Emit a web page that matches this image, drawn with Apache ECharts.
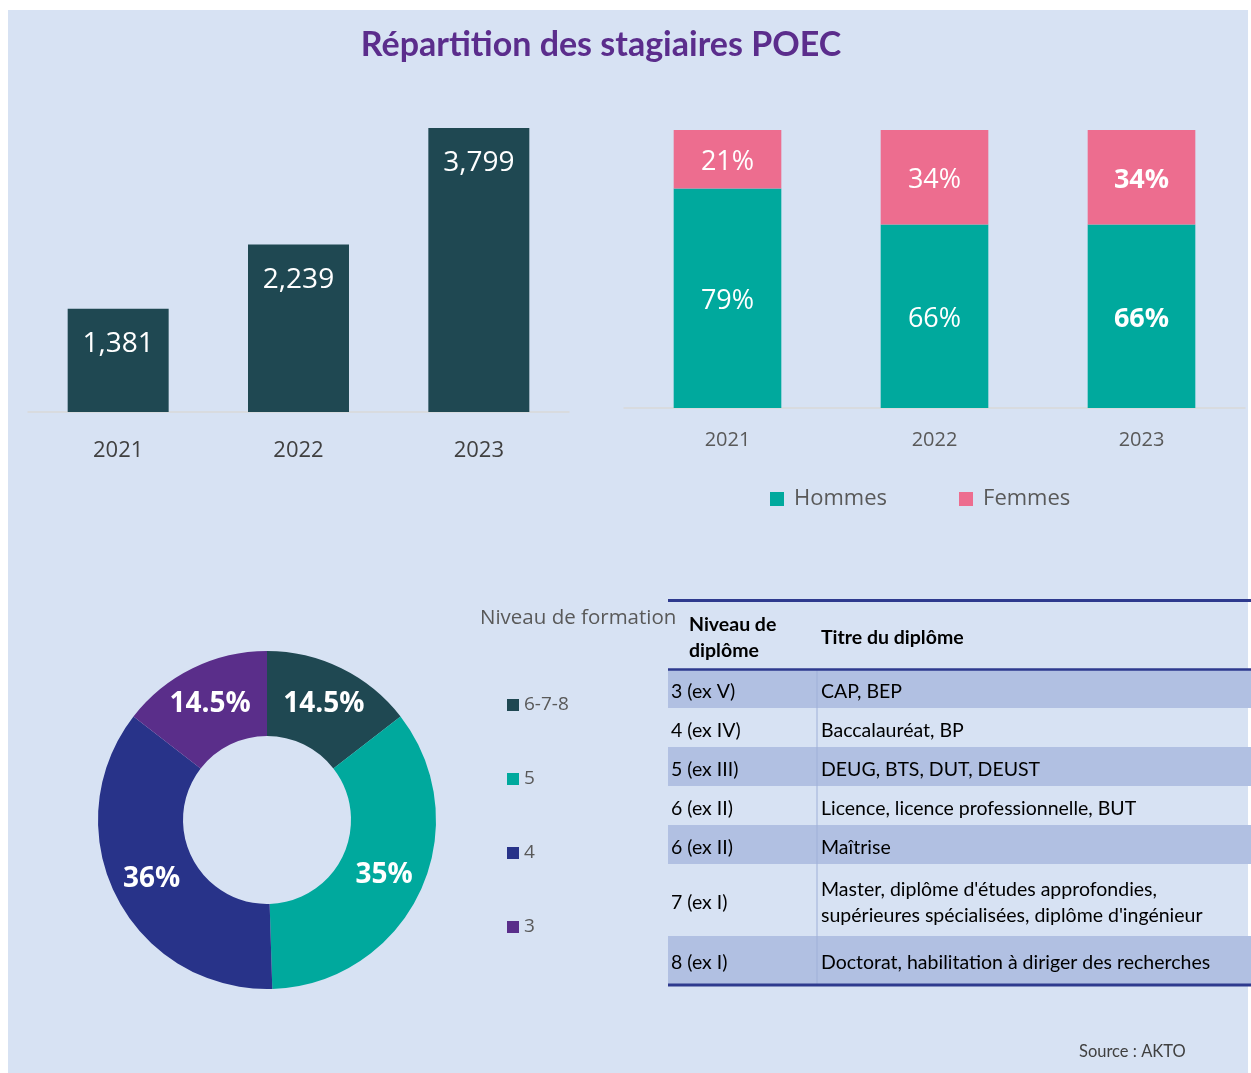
<!DOCTYPE html>
<html>
<head>
<meta charset="utf-8">
<title>Répartition des stagiaires POEC</title>
<script src="https://cdn.jsdelivr.net/npm/echarts@6/dist/echarts.min.js"></script>
<style>
  html, body { margin: 0; padding: 0; background: #ffffff; }
  #chart { width: 1251px; height: 1073px; }
</style>
</head>
<body>
<div id="chart"></div>
<script>
// ---- Data ----
const years = ['2021', '2022', '2023'];
const stagiaires = [1381, 2239, 3799];

const sexes = ['Hommes', 'Femmes'];
const hommesPct = [79, 66, 66];
const femmesPct = [21, 34, 34];

const niveauxFormation = ['6-7-8', '5', '4', '3'];
const niveauxPct = [14.5, 35, 36, 14.5];

const tableHeader = ['Niveau de\ndiplôme', 'Titre du diplôme'];
const tableNiveaux = ['3 (ex V)', '4 (ex IV)', '5 (ex III)', '6 (ex II)', '6 (ex II)', '7 (ex I)', '8 (ex I)'];
const tableTitres = [
  'CAP, BEP',
  'Baccalauréat, BP',
  'DEUG, BTS, DUT, DEUST',
  'Licence, licence professionnelle, BUT',
  'Maîtrise',
  "Master, diplôme d'études approfondies,\nsupérieures spécialisées, diplôme d'ingénieur",
  'Doctorat, habilitation à diriger des recherches'
];

// ---- Styles ----
const C = {
  panel: '#D7E2F3',
  title: '#5B2D8C',
  darkTeal: '#1F4852',
  teal: '#00A99D',
  pink: '#ED6D8F',
  navy: '#283389',
  purple: '#5A2E8A',
  axis: '#D9D9D9',
  label: '#404040',
  grey: '#595959',
  rowFill: '#B1C0E2',
  rule: '#2E3A8E'
};
const sans = '"Open Sans", sans-serif';
const tableFont = 'Lato, sans-serif';

// ---- Table drawn with graphic elements ----
const rowHeights = [38, 39, 39, 39, 39, 72, 48];
const tableLeft = 668, tableRight = 1251, colSplit = 817;
const tableEls = [];
let yRow = 670;
rowHeights.forEach((h, i) => {
  if (i % 2 === 0) {
    tableEls.push({ type: 'rect', shape: { x: tableLeft, y: yRow, width: tableRight - tableLeft, height: h },
      style: { fill: C.rowFill }, silent: true });
  }
  tableEls.push({ type: 'text', x: 671, y: yRow + h / 2 + 3,
    style: { text: tableNiveaux[i], font: '19.5px ' + tableFont, fill: '#000', verticalAlign: 'middle', textAlign: 'left' } });
  tableEls.push({ type: 'text', x: 821, y: yRow + h / 2 + 3,
    style: { text: tableTitres[i], font: '19.5px ' + tableFont, fill: '#000', verticalAlign: 'middle', textAlign: 'left', lineHeight: 26 } });
  yRow += h;
});
const tableBottom = yRow;
tableEls.push({ type: 'line', shape: { x1: colSplit, y1: 670, x2: colSplit, y2: tableBottom },
  style: { stroke: '#9FB0D8', lineWidth: 1 }, silent: true });
tableEls.push({ type: 'line', shape: { x1: tableLeft, y1: 600.5, x2: tableRight, y2: 600.5 }, style: { stroke: C.rule, lineWidth: 3 } });
tableEls.push({ type: 'line', shape: { x1: tableLeft, y1: 669.5, x2: tableRight, y2: 669.5 }, style: { stroke: C.rule, lineWidth: 2.5 } });
tableEls.push({ type: 'line', shape: { x1: tableLeft, y1: tableBottom + 1, x2: tableRight, y2: tableBottom + 1 }, style: { stroke: C.rule, lineWidth: 3 } });
tableEls.push({ type: 'text', x: 689, y: 638,
  style: { text: tableHeader[0], font: 'bold 19.5px ' + tableFont, fill: '#000', verticalAlign: 'middle', lineHeight: 26 } });
tableEls.push({ type: 'text', x: 821, y: 638,
  style: { text: tableHeader[1], font: 'bold 19.5px ' + tableFont, fill: '#000', verticalAlign: 'middle' } });

const chart = echarts.init(document.getElementById('chart'), null, { renderer: 'canvas' });

chart.setOption({
  backgroundColor: '#ffffff',
  animation: false,
  graphic: [
    { type: 'rect', z: -10, shape: { x: 8, y: 10, width: 1240, height: 1063 }, style: { fill: C.panel }, silent: true },
    { type: 'text', x: 601, y: 45,
      style: { text: 'Répartition des stagiaires POEC', font: 'bold 34px Lato, sans-serif', fill: C.title,
        textAlign: 'center', verticalAlign: 'middle' } },
    { type: 'text', x: 480, y: 618,
      style: { text: 'Niveau de formation', font: '20.5px ' + sans, fill: C.grey, verticalAlign: 'middle' } },
    { type: 'text', x: 1079, y: 1052,
      style: { text: 'Source : AKTO', font: '16.5px ' + tableFont, fill: C.label, verticalAlign: 'middle' } },
    { type: 'group', children: tableEls }
  ],
  legend: [
    {
      data: sexes, left: 770, top: 487, padding: 0, itemWidth: 14, itemHeight: 14, itemGap: 72,
      icon: 'rect', selectedMode: false,
      textStyle: { fontFamily: sans, fontSize: 22, color: C.grey, lineHeight: 24, padding: [0, 0, 0, 5] }
    },
    {
      data: niveauxFormation, orient: 'vertical', left: 507, top: 695, padding: 0, itemWidth: 12, itemHeight: 12,
      itemGap: 54, icon: 'rect', selectedMode: false,
      textStyle: { fontFamily: sans, fontSize: 19, color: C.grey, lineHeight: 20 }
    }
  ],
  grid: [
    { left: 28, top: 128, width: 541, height: 284 },
    { left: 624, top: 130, width: 621, height: 278 }
  ],
  xAxis: [
    { type: 'category', gridIndex: 0, data: years,
      axisLine: { lineStyle: { color: C.axis, width: 1.5 } }, axisTick: { show: false },
      axisLabel: { fontFamily: sans, fontSize: 22, color: C.label, margin: 28 } },
    { type: 'category', gridIndex: 1, data: years,
      axisLine: { lineStyle: { color: C.axis, width: 1.5 } }, axisTick: { show: false },
      axisLabel: { fontFamily: sans, fontSize: 20, color: C.grey, margin: 22 } }
  ],
  yAxis: [
    { type: 'value', gridIndex: 0, min: 0, max: 'dataMax', show: false, splitLine: { show: false } },
    { type: 'value', gridIndex: 1, min: 0, max: 100, show: false, splitLine: { show: false } }
  ],
  series: [
    {
      type: 'bar', xAxisIndex: 0, yAxisIndex: 0, data: stagiaires, barWidth: '56%',
      itemStyle: { color: C.darkTeal },
      label: { show: true, position: 'insideTop', distance: 21, color: '#fff', fontFamily: sans, fontSize: 28,
        formatter: p => p.value.toLocaleString('en-US') }
    },
    {
      name: 'Hommes', type: 'bar', stack: 'sexe', xAxisIndex: 1, yAxisIndex: 1, barWidth: '52%',
      data: hommesPct.map((v, i) => ({ value: v, label: { fontWeight: i === 2 ? 'bold' : 'normal' } })),
      itemStyle: { color: C.teal },
      label: { show: true, position: 'inside', offset: [0, 3], color: '#fff', fontFamily: sans, fontSize: 27, formatter: '{c}%' }
    },
    {
      name: 'Femmes', type: 'bar', stack: 'sexe', xAxisIndex: 1, yAxisIndex: 1, barWidth: '52%',
      data: femmesPct.map((v, i) => ({ value: v, label: { fontWeight: i === 2 ? 'bold' : 'normal' } })),
      itemStyle: { color: C.pink },
      label: { show: true, position: 'inside', offset: [0, 3], color: '#fff', fontFamily: sans, fontSize: 27, formatter: '{c}%' }
    },
    {
      type: 'pie', center: [267, 820], radius: [84, 169], startAngle: 90, clockwise: true,
      avoidLabelOverlap: false,
      data: niveauxFormation.map((n, i) => ({ name: n, value: niveauxPct[i] })),
      color: [C.darkTeal, C.teal, C.navy, C.purple],
      itemStyle: { borderWidth: 0 },
      label: { show: true, position: 'inside', color: '#fff', fontFamily: sans, fontWeight: 'bold', fontSize: 28,
        formatter: p => p.value + '%' },
      labelLine: { show: false },
      emphasis: { disabled: true }
    }
  ]
});
</script>
</body>
</html>
